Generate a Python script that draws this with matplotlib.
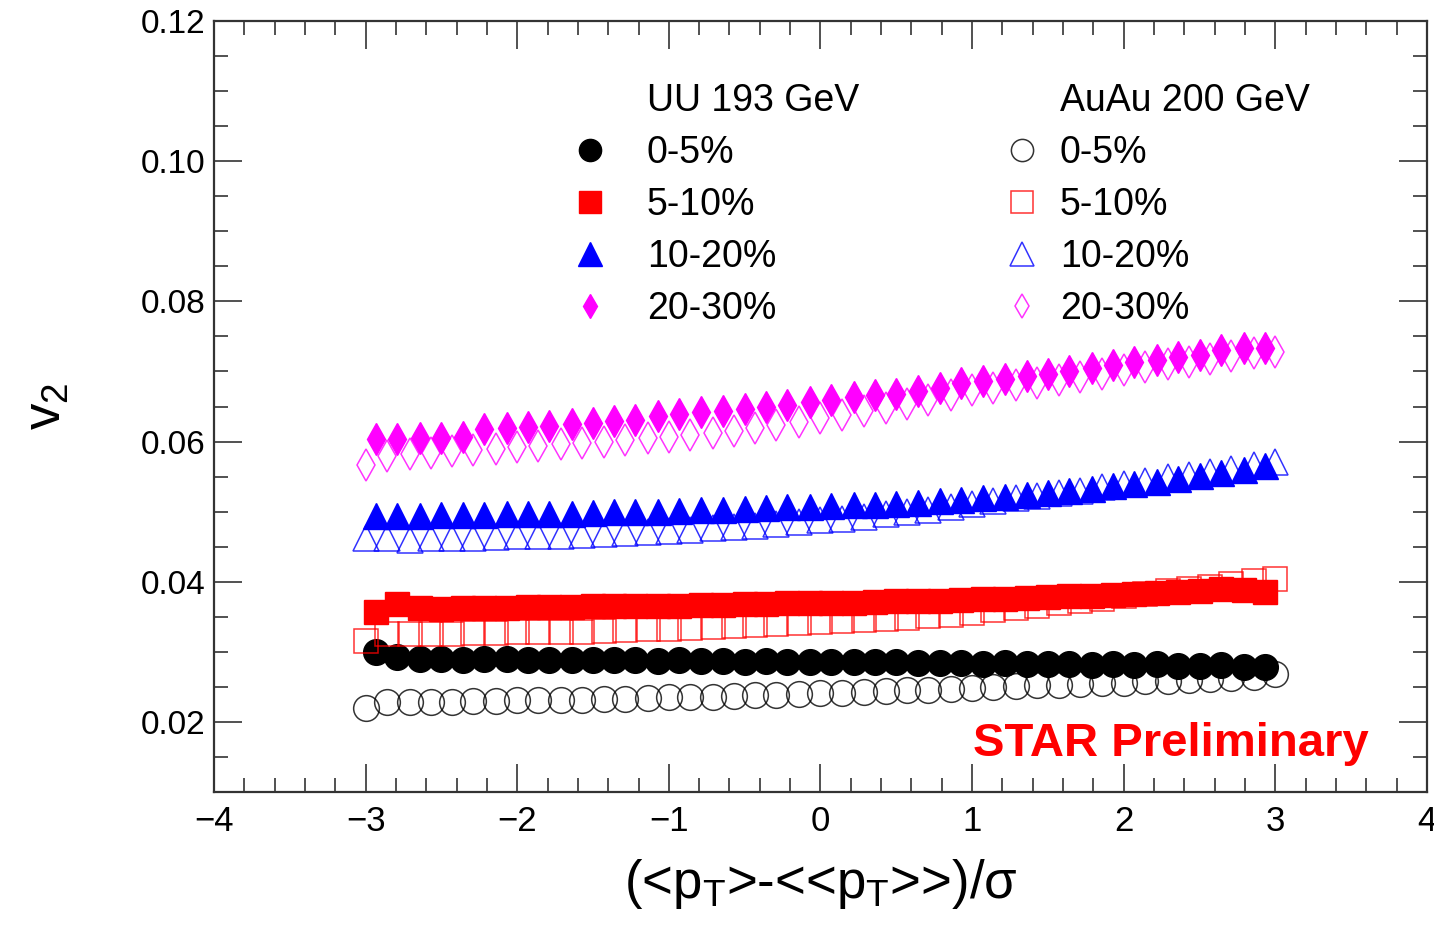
import matplotlib
matplotlib.use('Agg')
import matplotlib.pyplot as plt
from matplotlib.lines import Line2D
from matplotlib.ticker import MultipleLocator

plt.rcParams['font.family'] = ['Liberation Sans', 'DejaVu Sans']
plt.rcParams['mathtext.fontset'] = 'custom'
plt.rcParams['mathtext.rm'] = 'Liberation Sans'
plt.rcParams['mathtext.it'] = 'Liberation Sans:italic'

# bin centres
x_uu = [-2.93, -2.79, -2.64, -2.5, -2.36, -2.22, -2.07, -1.93, -1.79, -1.64, -1.5,
        -1.36, -1.22, -1.07, -0.93, -0.79, -0.64, -0.5, -0.36, -0.22, -0.07, 0.07,
        0.22, 0.36, 0.5, 0.64, 0.79, 0.93, 1.07, 1.22, 1.36, 1.5, 1.64, 1.79, 1.93,
        2.07, 2.22, 2.36, 2.5, 2.64, 2.79, 2.93]
x_au = [-3.0, -2.86, -2.71, -2.57, -2.43, -2.29, -2.14, -2.0, -1.86, -1.71, -1.57,
        -1.43, -1.29, -1.14, -1.0, -0.86, -0.71, -0.57, -0.43, -0.29, -0.14, 0.0,
        0.14, 0.29, 0.43, 0.57, 0.71, 0.86, 1.0, 1.14, 1.29, 1.43, 1.57, 1.71, 1.86,
        2.0, 2.14, 2.29, 2.43, 2.57, 2.71, 2.86, 3.0]

# UU 193 GeV
uu_0_5 = [0.0300, 0.0292, 0.0290, 0.0290, 0.0289, 0.0290, 0.0290, 0.0289, 0.0289, 0.0288,
          0.0289, 0.0288, 0.0288, 0.0287, 0.0288, 0.0287, 0.0287, 0.0286, 0.0287, 0.0286,
          0.0286, 0.0286, 0.0285, 0.0285, 0.0285, 0.0284, 0.0284, 0.0284, 0.0283, 0.0284,
          0.0283, 0.0282, 0.0282, 0.0281, 0.0282, 0.0281, 0.0282, 0.0280, 0.0280, 0.0281,
          0.0279, 0.0278]
uu_5_10 = [0.0357, 0.0368, 0.0362, 0.0361, 0.0362, 0.0363, 0.0363, 0.0364, 0.0364, 0.0364,
           0.0365, 0.0365, 0.0366, 0.0366, 0.0366, 0.0367, 0.0367, 0.0368, 0.0368, 0.0369,
           0.0369, 0.0370, 0.0370, 0.0371, 0.0372, 0.0372, 0.0373, 0.0374, 0.0375, 0.0376,
           0.0377, 0.0378, 0.0379, 0.0380, 0.0381, 0.0383, 0.0384, 0.0385, 0.0387, 0.0389,
           0.0388, 0.0386]
uu_10_20 = [0.0494, 0.0494, 0.0494, 0.0495, 0.0495, 0.0495, 0.0496, 0.0496, 0.0497, 0.0497,
            0.0498, 0.0499, 0.0500, 0.0500, 0.0501, 0.0502, 0.0503, 0.0504, 0.0505, 0.0506,
            0.0507, 0.0508, 0.0509, 0.0510, 0.0511, 0.0513, 0.0515, 0.0517, 0.0519, 0.0521,
            0.0524, 0.0527, 0.0530, 0.0533, 0.0536, 0.0540, 0.0543, 0.0547, 0.0551, 0.0555,
            0.0560, 0.0565]
uu_20_30 = [0.0604, 0.0604, 0.0605, 0.0605, 0.0606, 0.0618, 0.0620, 0.0621, 0.0622, 0.0625,
            0.0627, 0.0629, 0.0631, 0.0636, 0.0640, 0.0642, 0.0643, 0.0646, 0.0649, 0.0652,
            0.0656, 0.0660, 0.0663, 0.0666, 0.0668, 0.0672, 0.0677, 0.0683, 0.0686, 0.0689,
            0.0693, 0.0697, 0.0700, 0.0705, 0.0709, 0.0714, 0.0717, 0.0720, 0.0723, 0.0730,
            0.0734, 0.0733]

# AuAu 200 GeV
au_0_5 = [0.0220, 0.0228, 0.0228, 0.0229, 0.0229, 0.0230, 0.0230, 0.0231, 0.0231, 0.0232,
          0.0232, 0.0233, 0.0233, 0.0234, 0.0235, 0.0235, 0.0236, 0.0237, 0.0238, 0.0239,
          0.0240, 0.0241, 0.0242, 0.0243, 0.0244, 0.0245, 0.0246, 0.0247, 0.0249, 0.0250,
          0.0251, 0.0252, 0.0253, 0.0254, 0.0255, 0.0256, 0.0258, 0.0259, 0.0260, 0.0261,
          0.0263, 0.0264, 0.0268]
au_5_10 = [0.0316, 0.0326, 0.0325, 0.0326, 0.0326, 0.0327, 0.0327, 0.0328, 0.0328, 0.0329,
           0.0329, 0.0330, 0.0331, 0.0332, 0.0333, 0.0334, 0.0336, 0.0337, 0.0339, 0.0340,
           0.0341, 0.0343, 0.0344, 0.0346, 0.0347, 0.0349, 0.0351, 0.0353, 0.0356, 0.0359,
           0.0362, 0.0366, 0.0369, 0.0372, 0.0376, 0.0380, 0.0383, 0.0387, 0.0390, 0.0393,
           0.0397, 0.0401, 0.0404]
au_10_20 = [0.0463, 0.0462, 0.0460, 0.0462, 0.0463, 0.0463, 0.0464, 0.0465, 0.0465, 0.0466,
            0.0467, 0.0468, 0.0469, 0.0471, 0.0473, 0.0474, 0.0476, 0.0478, 0.0480, 0.0482,
            0.0485, 0.0488, 0.0490, 0.0493, 0.0496, 0.0499, 0.0503, 0.0507, 0.0511, 0.0515,
            0.0519, 0.0522, 0.0526, 0.0530, 0.0535, 0.0540, 0.0544, 0.0549, 0.0553, 0.0557,
            0.0561, 0.0566, 0.0571]
au_20_30 = [0.0566, 0.0580, 0.0582, 0.0584, 0.0586, 0.0588, 0.0590, 0.0592, 0.0594, 0.0596,
            0.0598, 0.0600, 0.0602, 0.0605, 0.0607, 0.0609, 0.0612, 0.0615, 0.0619, 0.0623,
            0.0628, 0.0633, 0.0638, 0.0643, 0.0648, 0.0653, 0.0660, 0.0666, 0.0673, 0.0677,
            0.0681, 0.0684, 0.0688, 0.0692, 0.0697, 0.0702, 0.0706, 0.0710, 0.0714, 0.0718,
            0.0722, 0.0726, 0.0728]

labels = ['0-5%', '5-10%', '10-20%', '20-30%']
colors = ['black', 'red', 'blue', 'magenta']
markers = ['o', 's', '^', 'd']
sizes = [18.5, 17.5, 19, 16]
leg_sizes = [16, 16, 17, 12.5]

fig = plt.figure(figsize=(14.34, 9.27), dpi=100)
ax = fig.add_axes([0.1492, 0.1456, 0.8459, 0.8317])

uu = [uu_0_5, uu_5_10, uu_10_20, uu_20_30]
au = [au_0_5, au_5_10, au_10_20, au_20_30]

h_uu = []
h_au = []
for y, c, m, s, ls_ in zip(uu, colors, markers, sizes, leg_sizes):
    ax.plot(x_uu, y, ls='none', marker=m, ms=s, color=c, mec=c, mew=1, zorder=3)
    h_uu.append(Line2D([], [], ls='none', marker=m, ms=ls_, color=c, mec=c))
for y, c, m, s, ls_ in zip(au, colors, markers, sizes, leg_sizes):
    ax.plot(x_au, y, ls='none', marker=m, ms=s, mfc='none', mec=c, mew=1.1, alpha=0.8, zorder=4)
    h_au.append(Line2D([], [], ls='none', marker=m, ms=ls_, mfc='none', mec=c, mew=1.1, alpha=0.8))

blank = Line2D([], [], ls='none')
leg_kw = dict(frameon=False, fontsize=27, loc='upper left', borderpad=0, borderaxespad=0,
              handlelength=1.0, labelspacing=0.43, bbox_transform=ax.transAxes)
leg1 = ax.legend([blank] + h_uu, ['UU 193 GeV'] + labels, bbox_to_anchor=(0.2943, 0.92),
                 handletextpad=1.02, **leg_kw)
ax.add_artist(leg1)
ax.legend([blank] + h_au, ['AuAu 200 GeV'] + labels, bbox_to_anchor=(0.6505, 0.92),
          handletextpad=0.51, **leg_kw)

ax.text(0.952, 0.062, 'STAR Preliminary', transform=ax.transAxes, color='red',
        fontsize=34, fontweight='bold', ha='right', va='center')

ax.set_xlim(-4, 4)
ax.set_ylim(0.01, 0.12)
ax.xaxis.set_major_locator(MultipleLocator(1))
ax.xaxis.set_minor_locator(MultipleLocator(0.2))
ax.yaxis.set_major_locator(MultipleLocator(0.02))
ax.yaxis.set_minor_locator(MultipleLocator(0.005))
ax.yaxis.set_major_formatter(matplotlib.ticker.FormatStrFormatter('%.2f'))
ax.tick_params(which='both', direction='in', top=True, right=True, width=1.2, color='#333333')
ax.tick_params(which='major', length=20)
ax.tick_params(which='minor', length=10)
ax.tick_params(axis='x', labelsize=25, pad=9)
ax.tick_params(axis='y', labelsize=24, pad=6)
for sp in ax.spines.values():
    sp.set_linewidth(1.6)
    sp.set_color('#333333')

ax.set_xlabel(r'(<p$_{\mathrm{T}}$>-<<p$_{\mathrm{T}}$>>)/σ', fontsize=38, labelpad=14)
ax.set_ylabel(r'v$_{2}$', fontsize=38, labelpad=50)

fig.savefig('out.png', dpi=100)
